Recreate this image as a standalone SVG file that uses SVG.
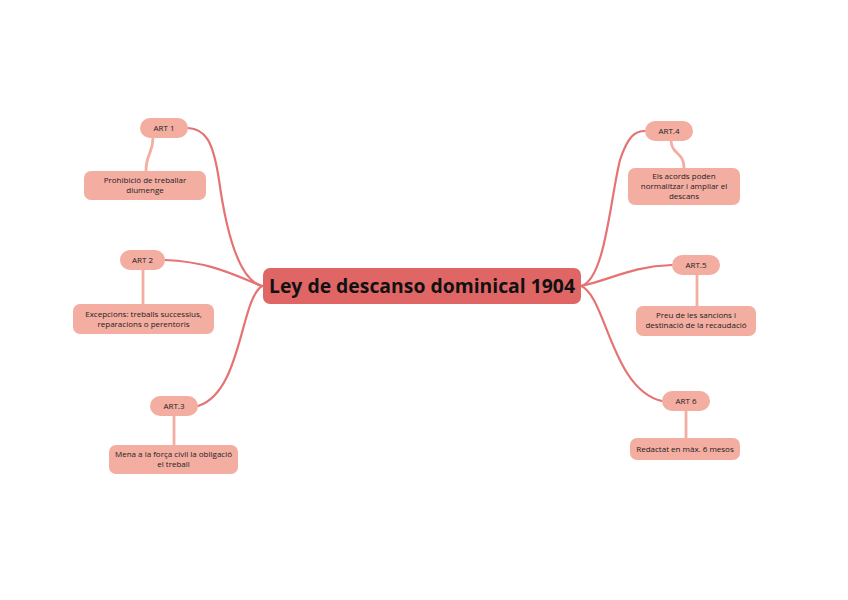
<svg xmlns="http://www.w3.org/2000/svg" width="848" height="600" viewBox="0 0 848 600">
<style>
.main{fill:none;stroke:#e57373;stroke-width:2.2;stroke-linecap:round}
.sub{fill:none;stroke:#f3ada1;stroke-width:2.8;stroke-linecap:round}
.pill{fill:#f3ada1}
.box{fill:#f3ada1}
.t{font-family:"Open Sans","Liberation Sans",sans-serif;font-size:8px;fill:#222;text-anchor:middle}
.title{font-family:"Open Sans","Liberation Sans",sans-serif;font-size:19px;font-weight:bold;fill:#111;text-anchor:middle}
</style>
<rect width="848" height="600" fill="#fff"/>
<g id="connectors">
<path class="main" d="M262,286 C238,280 226,230 219,180 C213,140 205,129 188,128"/>
<path class="main" d="M262,286 C236,276 212,262 165,260"/>
<path class="main" d="M262,286 C240,300 242,392 198,406"/>
<path class="main" d="M581,286 C605,280 610,200 620,160 C628,136 635,131 645,131"/>
<path class="main" d="M581,286 C610,280 632,266 672,265"/>
<path class="main" d="M581,286 C606,296 612,390 662,401"/>
<path class="sub" d="M153,138 C153,154 146,153 146,171"/>
<path class="sub" d="M143,270 L143,304"/>
<path class="sub" d="M174,416 L174,445"/>
<path class="sub" d="M671,141 C672,155 684,152 684,168"/>
<path class="sub" d="M697,275 L697,306"/>
<path class="sub" d="M686,411 L686,438"/>
</g>
<g id="center">
<rect x="263" y="268" width="318" height="36" rx="7" fill="#e06666"/>
<text class="title" x="422" y="293" textLength="306" lengthAdjust="spacingAndGlyphs">Ley de descanso dominical 1904</text>
</g>
<g id="art1">
<rect class="pill" x="140" y="118" width="48" height="20" rx="10"/>
<text class="t" x="164" y="131">ART 1</text>
</g>
<g id="art1-text">
<rect class="box" x="84" y="171" width="122" height="29" rx="7"/>
<text class="t" x="145" y="183">Prohibició de treballar</text>
<text class="t" x="145" y="193">diumenge</text>
</g>
<g id="art2">
<rect class="pill" x="120" y="250" width="45" height="20" rx="10"/>
<text class="t" x="142.5" y="263">ART 2</text>
</g>
<g id="art2-text">
<rect class="box" x="73" y="304" width="141" height="30" rx="7"/>
<text class="t" x="143.5" y="317">Excepcions: treballs successius,</text>
<text class="t" x="143.5" y="327">reparacions o perentoris</text>
</g>
<g id="art3">
<rect class="pill" x="150" y="396" width="48" height="20" rx="10"/>
<text class="t" x="174" y="409">ART.3</text>
</g>
<g id="art3-text">
<rect class="box" x="109" y="445" width="129" height="29" rx="7"/>
<text class="t" x="173.5" y="457">Mena a la força civil la obligació</text>
<text class="t" x="173.5" y="467">el treball</text>
</g>
<g id="art4">
<rect class="pill" x="645" y="121" width="48" height="20" rx="10"/>
<text class="t" x="669" y="134">ART.4</text>
</g>
<g id="art4-text">
<rect class="box" x="628" y="168" width="112" height="37" rx="7"/>
<text class="t" x="684" y="179">Els acords poden</text>
<text class="t" x="684" y="189">normalitzar i ampliar el</text>
<text class="t" x="684" y="199">descans</text>
</g>
<g id="art5">
<rect class="pill" x="672" y="255" width="48" height="20" rx="10"/>
<text class="t" x="696" y="268">ART.5</text>
</g>
<g id="art5-text">
<rect class="box" x="636" y="306" width="120" height="30" rx="7"/>
<text class="t" x="696" y="318">Preu de les sancions i</text>
<text class="t" x="696" y="328">destinació de la recaudació</text>
</g>
<g id="art6">
<rect class="pill" x="662" y="391" width="48" height="20" rx="10"/>
<text class="t" x="686" y="404">ART 6</text>
</g>
<g id="art6-text">
<rect class="box" x="630" y="438" width="110" height="22" rx="7"/>
<text class="t" x="685" y="452">Redactat en màx. 6 mesos</text>
</g>
</svg>
